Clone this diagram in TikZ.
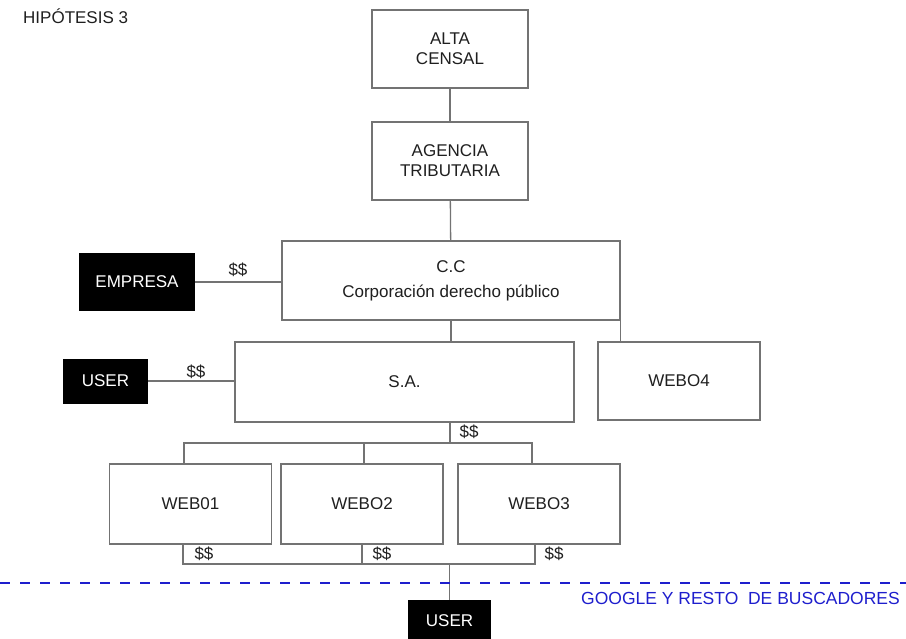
\documentclass[tikz,border=0pt]{standalone}
\usepackage{fontspec}
\setmainfont{Liberation Sans}
\definecolor{linea}{RGB}{115,115,115}
\definecolor{buscador}{RGB}{30,30,205}
\begin{document}
\begin{tikzpicture}[x=1pt,y=-1pt,
        texto/.style={font=\fontsize{17}{20}\selectfont,text=black!88},
        caja/.style={texto,draw=linea,line width=1.3pt,fill=white,align=center,inner sep=0pt},
        negra/.style={fill=black,text=white,inner sep=0pt,font=\fontsize{17}{20}\selectfont},
        union/.style={draw=linea,line width=1.3pt},
        dinero/.style={texto,inner sep=0pt}]
    \useasboundingbox (0,0) rectangle (906,638);
    \node[texto,anchor=west,inner sep=0pt] (titulo) at (23,16) {HIPÓTESIS 3};
    \node[caja,minimum width=156pt,minimum height=78pt] (alta) at (450,49) {ALTA\\CENSAL};
    \node[caja,minimum width=156pt,minimum height=78pt] (agencia) at (450,161) {AGENCIA\\TRIBUTARIA};
    \node[caja,minimum width=338pt,minimum height=79pt] (cc) at (451,280.5) {C.C\\[5pt]Corporación derecho público};
    \node[negra,minimum width=116pt,minimum height=58pt] (empresa) at (137,282) {EMPRESA};
    \node[caja,minimum width=339pt,minimum height=80pt] (sa) at (404.5,382) {S.A.};
    \node[negra,minimum width=85pt,minimum height=45pt] (usuario) at (105.5,381) {USER};
    \node[caja,minimum width=162pt,minimum height=78pt] (web04) at (679,381) {WEBO4};
    \foreach \nombre/\x/\etiqueta in {web01/190.5/WEB01,web02/362/WEBO2,web03/539/WEBO3} {
        \node[caja,minimum width=162pt,minimum height=80pt] (\nombre) at (\x,504) {\etiqueta};
    }
    \node[negra,minimum width=83pt,minimum height=42pt] (usuariofinal) at (449.5,621) {USER};

    \draw[union] (alta) -- (agencia);
    \draw[union] (agencia) -- (cc);
    \draw[union] (empresa.east) -- (empresa.east -| cc.west);
    \draw[union] (usuario.east) -- (usuario.east -| sa.west);
    \draw[union] (cc.south) -- (cc.south |- sa.north);
    \draw[union] (cc.south east) -- (cc.south east |- web04.north);

    \coordinate (busarriba) at (450,443);
    \coordinate (b1) at (184,443);
    \coordinate (b2) at (364,443);
    \coordinate (b3) at (532,443);
    \draw[union] (busarriba |- sa.south) -- (busarriba);
    \draw[union] (b1 |- web01.north) -- (b1) -- (b3) -- (b3 |- web03.north);
    \draw[union] (b2) -- (b2 |- web02.north);

    \coordinate (busabajo) at (449.5,564);
    \coordinate (c1) at (183,564);
    \coordinate (c2) at (362,564);
    \coordinate (c3) at (535,564);
    \draw[union] (c1 |- web01.south) -- (c1) -- (c3) -- (c3 |- web03.south);
    \draw[union] (c2 |- web02.south) -- (c2);
    \draw[union] (busabajo) -- (usuariofinal.north);

    \node[dinero] (d1) at (238,270) {\$\$};
    \node[dinero] (d2) at (196,372) {\$\$};
    \node[dinero] (d3) at (469,432) {\$\$};
    \node[dinero] (d4) at (204,554) {\$\$};
    \node[dinero] (d5) at (382,554) {\$\$};
    \node[dinero] (d6) at (554,554) {\$\$};

    \coordinate (izq) at (0,583);
    \coordinate (der) at (906,583);
    \draw[buscador,line width=1.8pt,dash pattern=on 10pt off 10pt] (izq) -- (der);
    \node[font=\fontsize{17.5}{20}\selectfont,text=buscador,anchor=east,inner sep=0pt] (google) at (900,598) {GOOGLE Y RESTO\ \ DE BUSCADORES};
\end{tikzpicture}
\end{document}
